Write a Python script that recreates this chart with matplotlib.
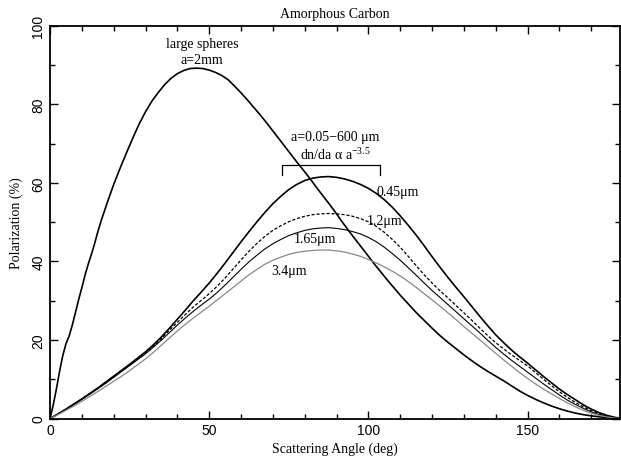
import matplotlib
matplotlib.use("Agg")
import matplotlib.pyplot as plt
from matplotlib.ticker import MultipleLocator

plt.rcParams['mathtext.fontset'] = 'custom'
plt.rcParams['mathtext.rm'] = 'Liberation Serif'
plt.rcParams['mathtext.it'] = 'Liberation Serif:italic'

# ---- data ----
ang_large = [0, 1, 2, 3, 4, 5, 6, 7, 8, 9, 10, 11, 12, 13, 14, 15, 16, 17, 18, 19, 20, 22, 24, 26,
             28, 30, 32, 34, 36, 38, 40, 42, 44, 46, 48, 50, 52, 54, 56, 58, 60, 62, 64, 66, 68,
             70, 72, 74, 76, 78, 80, 82, 84, 86, 88, 90, 92, 94, 96, 98, 100, 102, 104, 106, 108,
             110, 112.5, 115, 117.5, 120, 122.5, 125, 127.5, 130, 132.5, 135, 137.5, 140, 142.5,
             145, 147.5, 150, 152.5, 155, 157.5, 160, 162.5, 165, 167.5, 170, 172.5, 175, 177.5, 180]
pol_large = [0, 3.4, 7.5, 12.0, 16.0, 19.0, 21.0, 23.8, 27.0, 30.3, 33.3, 36.5, 39.3, 41.8, 44.5,
             47.5, 50.2, 52.6, 55.0, 57.3, 59.6, 63.7, 67.6, 71.4, 75.0, 78.1, 80.8, 83.0, 85.0,
             86.6, 87.8, 88.6, 89.1, 89.2, 89.1, 88.7, 88.1, 87.3, 86.2, 84.6, 82.9, 81.1, 79.2,
             77.3, 75.3, 73.2, 71.1, 69.0, 66.9, 64.8, 62.8, 60.7, 58.5, 56.4, 54.3, 52.1, 49.8,
             47.6, 45.5, 43.4, 41.3, 39.2, 37.2, 35.2, 33.3, 31.4, 29.2, 27.0, 25.0, 23.0, 21.1,
             19.4, 17.8, 16.2, 14.7, 13.3, 12.0, 10.8, 9.6, 8.3, 7.0, 5.9, 4.9, 4.0, 3.2, 2.5, 1.9,
             1.4, 1.0, 0.7, 0.45, 0.25, 0.1, 0]

angles = [0, 2.5, 5, 7.5, 10, 12.5, 15, 17.5, 20, 22.5, 25, 27.5, 30, 32.5, 35, 37.5, 40, 42.5,
          45, 47.5, 50, 52.5, 55, 57.5, 60, 62.5, 65, 67.5, 70, 72.5, 75, 77.5, 80, 82.5, 85, 87.5,
          90, 92.5, 95, 97.5, 100, 102.5, 105, 107.5, 110, 112.5, 115, 117.5, 120, 122.5, 125,
          127.5, 130, 132.5, 135, 137.5, 140, 142.5, 145, 147.5, 150, 152.5, 155, 157.5, 160,
          162.5, 165, 167.5, 170, 172.5, 175, 177.5, 180]
pol_045 = [0, 1.2, 2.4, 3.7, 5.0, 6.4, 7.8, 9.3, 10.8, 12.3, 13.8, 15.4, 17.0, 18.8, 20.8, 23.0,
           25.3, 27.6, 30.0, 32.2, 34.5, 37.0, 39.6, 42.3, 45.0, 47.6, 50.1, 52.5, 54.7, 56.6,
           58.3, 59.6, 60.6, 61.2, 61.5, 61.6, 61.4, 61.0, 60.4, 59.6, 58.6, 57.3, 55.7, 53.8,
           51.6, 49.2, 46.7, 44.0, 41.2, 38.5, 35.9, 33.4, 31.0, 28.5, 26.0, 23.6, 21.3, 19.3,
           17.4, 15.7, 14.1, 12.4, 10.7, 9.1, 7.5, 6.1, 4.8, 3.5, 2.4, 1.5, 0.8, 0.3, 0]
pol_12 = [0, 1.2, 2.4, 3.7, 5.0, 6.3, 7.7, 9.1, 10.6, 12.1, 13.6, 15.1, 16.7, 18.5, 20.4, 22.5,
          24.5, 26.5, 28.4, 30.1, 31.8, 33.7, 35.8, 38.1, 40.4, 42.6, 44.6, 46.4, 47.9, 49.1,
          50.1, 50.9, 51.5, 51.9, 52.1, 52.2, 52.1, 51.9, 51.5, 50.9, 50.1, 48.9, 47.4, 45.6,
          43.6, 41.3, 38.9, 36.6, 34.5, 32.5, 30.7, 28.8, 26.9, 25.0, 23.0, 21.1, 19.3, 17.7,
          16.2, 14.8, 13.4, 11.7, 10.0, 8.4, 6.8, 5.4, 4.1, 3.0, 2.0, 1.2, 0.6, 0.2, 0]
pol_165 = [0, 1.1, 2.3, 3.6, 4.9, 6.2, 7.6, 9.0, 10.5, 12.0, 13.5, 15.0, 16.5, 18.2, 20.0, 21.9,
           23.8, 25.6, 27.3, 28.9, 30.4, 32.1, 34.0, 36.0, 38.0, 39.9, 41.6, 43.2, 44.5, 45.6,
           46.6, 47.3, 47.9, 48.3, 48.5, 48.6, 48.4, 48.1, 47.6, 47.0, 46.1, 45.0, 43.6, 42.0,
           40.3, 38.4, 36.5, 34.5, 32.6, 30.8, 29.0, 27.2, 25.4, 23.6, 21.8, 19.9, 18.1, 16.4,
           14.8, 13.3, 11.8, 10.3, 8.8, 7.4, 6.0, 4.7, 3.6, 2.6, 1.7, 1.0, 0.5, 0.2, 0]
pol_34 = [0, 1.0, 2.1, 3.2, 4.4, 5.6, 6.9, 8.2, 9.5, 10.8, 12.2, 13.7, 15.2, 16.9, 18.7, 20.5,
          22.3, 24.0, 25.6, 27.1, 28.6, 30.2, 31.8, 33.4, 35.0, 36.6, 38.0, 39.3, 40.3, 41.1,
          41.8, 42.3, 42.6, 42.8, 42.9, 42.9, 42.7, 42.4, 41.9, 41.3, 40.5, 39.6, 38.6, 37.5,
          36.3, 34.9, 33.4, 31.8, 30.2, 28.6, 26.9, 25.2, 23.4, 21.7, 20.0, 18.3, 16.6, 14.9,
          13.3, 11.7, 10.2, 8.8, 7.5, 6.3, 5.1, 4.0, 3.0, 2.1, 1.4, 0.8, 0.4, 0.1, 0]

xticks = [0, 50, 100, 150]
yticks = [0, 20, 40, 60, 80, 100]

serif = 'Liberation Serif'
sans = 'Liberation Sans'

fig = plt.figure(figsize=(6.21, 4.60), dpi=100)
ax = fig.add_axes([50/621, 40.4/460, 570/621, 392.9/460])

ax.plot(ang_large, pol_large, color='black', lw=1.2)
ax.plot(angles, pol_045, color='black', lw=1.2)
ax.plot(angles, pol_12, color='black', lw=0.9, dashes=(2.5, 1.5))
ax.plot(angles, pol_165, color='black', lw=0.8)
ax.plot(angles, pol_34, color='#888888', lw=0.9)

ax.set_xlim(0, 179)
ax.set_ylim(0, 100)
ax.set_xticks(xticks)
ax.set_yticks(yticks)
ax.xaxis.set_minor_locator(MultipleLocator(10))
ax.yaxis.set_minor_locator(MultipleLocator(10))
ax.tick_params(which='both', direction='in', top=True, right=True, width=1)
ax.tick_params(which='major', length=6)
ax.tick_params(which='minor', length=3.5)
for lab in ax.get_xticklabels():
    lab.set_fontfamily(sans)
    lab.set_fontsize(10)
for lab in ax.get_yticklabels():
    lab.set_fontfamily(sans)
    lab.set_fontsize(10)
    lab.set_rotation(90)
    lab.set_va('center')
for s in ax.spines.values():
    s.set_linewidth(1.3)

ax.set_title('Amorphous Carbon', family=serif, fontsize=10, pad=6)
ax.set_xlabel('Scattering Angle (deg)', family=serif, fontsize=10, labelpad=3)
ax.set_ylabel('Polarization (%)', family=serif, fontsize=10, labelpad=6)

ax.text(47.7, 95.5, 'large spheres', family=serif, fontsize=10, ha='center', va='center')
ax.text(47.7, 91.3, 'a=2mm', family=serif, fontsize=10, ha='center', va='center')
ax.text(89.5, 71.9, 'a=0.05\u2212600 \u03bcm', family=serif, fontsize=10, ha='center', va='center')
ax.text(89.5, 67.3, 'dn/da \u03b1 a$^{-3.5}$', family=serif, fontsize=10, ha='center', va='center')
ax.plot([72.7, 72.7, 103.6, 103.6], [62.0, 64.5, 64.5, 62.0], color='black', lw=0.9)
ax.text(102.5, 57.7, '0.45\u03bcm', family=serif, fontsize=10, ha='left', va='center')
ax.text(99.5, 50.4, '1.2\u03bcm', family=serif, fontsize=10, ha='left', va='center')
ax.text(76.4, 45.8, '1.65\u03bcm', family=serif, fontsize=10, ha='left', va='center')
ax.text(69.6, 37.6, '3.4\u03bcm', family=serif, fontsize=10, ha='left', va='center')

fig.savefig('out.png', dpi=100)
